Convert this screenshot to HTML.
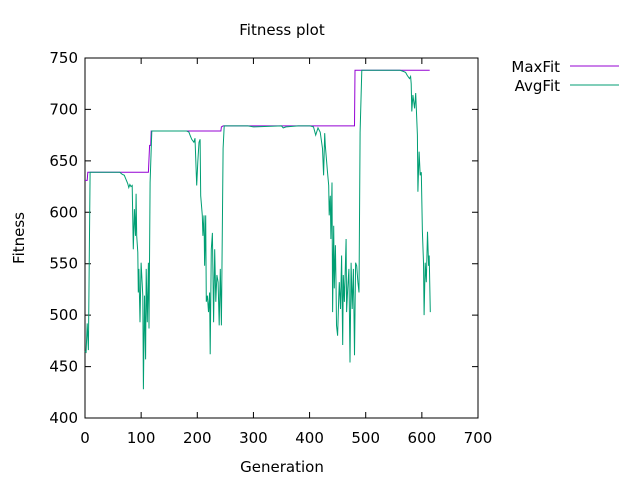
<!DOCTYPE html>
<html><head><meta charset="utf-8"><style>
body{margin:0;background:#fff}
svg text{font-family:"DejaVu Sans","Liberation Sans",sans-serif;font-size:15px;fill:#000}
</style></head><body>
<svg id="chart" width="640" height="480" viewBox="0 0 640 480" xmlns="http://www.w3.org/2000/svg">
<text x="282" y="35" text-anchor="middle">Fitness plot</text>
<text x="282" y="472" text-anchor="middle">Generation</text>
<text x="24" y="238" text-anchor="middle" transform="rotate(-90 24 238)">Fitness</text>
<g id="axes"></g>
<g id="series"></g>
<g>
<text x="560" y="72" text-anchor="end">MaxFit</text>
<line x1="570" y1="66" x2="619" y2="66" stroke="#9400d3" stroke-width="1"/>
<text x="560" y="91" text-anchor="end">AvgFit</text>
<line x1="570" y1="85" x2="619" y2="85" stroke="#009e73" stroke-width="1"/>
</g>
</svg>
<script>
const xTicks=[0,100,200,300,400,500,600,700];
const yTicks=[400,450,500,550,600,650,700,750];
const maxGen=[0,4,5,113,115,117,118,242,243,246,480,481,482,614];
const maxVal=[631,631,639,639,665,665,679,679,683,684,684,738,738,738];
const avgGen=[0,2,4,6,9,62,66,70,73,76,78,80,82,84,86,88,90,91,92,94,95,96,98,100,103,104,106,108,109,111,113,114,116,119,181,185,187,190,194,196,199,201,203,205,206,209,210,212,213,215,216,218,220,222,223,225,227,229,231,233,235,237,239,241,243,246,248,290,300,350,353,358,380,401,407,411,415,419,423,425,427,428,430,432,434,435,437,438,440,441,443,444,446,447,448,450,452,453,455,457,459,460,462,465,466,468,470,472,474,476,478,480,482,484,486,488,490,493,561,567,571,574,578,580,581,582,584,587,589,592,593,595,597,599,601,603,604,606,608,610,612,613,615];
const avgVal=[465,464,492,466,639,639,637,636,632,628,624,627,625,626,564,603,577,618,577,561,522,545,493,551,519,428,519,457,545,493,551,487,629,679,679,678,675,671,668,672,626,649,668,671,616,597,577,597,548,597,513,519,503,522,462,564,580,493,564,513,539,532,490,545,490,662,684,684,683,684,682,683,684,684,683,675,682,678,662,636,677,665,652,639,626,597,616,574,629,503,587,526,568,532,490,480,519,532,506,558,471,539,513,574,503,526,545,454,551,506,545,461,551,548,532,522,678,738,738,737,736,733,730,732,725,698,714,701,716,675,620,659,636,639,581,551,500,551,532,581,548,558,503];
const L=85,R=478,T=58,B=418;
const xs=g=>L+(g/700)*(R-L);
const ys=v=>B-((v-400)/350)*(B-T);
const NS="http://www.w3.org/2000/svg";
const axes=document.getElementById('axes');
const frame=document.createElementNS(NS,'rect');
frame.setAttribute('x',L);frame.setAttribute('y',T);frame.setAttribute('width',R-L);frame.setAttribute('height',B-T);
frame.setAttribute('fill','none');frame.setAttribute('stroke','#000');frame.setAttribute('stroke-width','1');


axes.appendChild(frame);
xTicks.forEach(t=>{
  const x=xs(t);
  const l=document.createElementNS(NS,'path');
  l.setAttribute('d',`M${x},${B}v-6M${x},${T}v6`);l.setAttribute('stroke','#000');
  
  
  axes.appendChild(l);
  const tx=document.createElementNS(NS,'text');
  tx.setAttribute('x',x);tx.setAttribute('y',B+25);tx.setAttribute('text-anchor','middle');tx.textContent=t;
  
  
  axes.appendChild(tx);
});
yTicks.forEach(t=>{
  const y=ys(t);
  const l=document.createElementNS(NS,'path');
  l.setAttribute('d',`M${L},${y}h6M${R},${y}h-6`);l.setAttribute('stroke','#000');
  
  
  axes.appendChild(l);
  const tx=document.createElementNS(NS,'text');
  tx.setAttribute('x',L-7);tx.setAttribute('y',y+5);tx.setAttribute('text-anchor','end');tx.textContent=t;
  
  
  axes.appendChild(tx);
});
const ser=document.getElementById('series');
function line(gs,vs,color,name){
  const p=document.createElementNS(NS,'polyline');
  p.setAttribute('points',gs.map((g,i)=>xs(g).toFixed(1)+','+ys(vs[i]).toFixed(1)).join(' '));
  p.setAttribute('fill','none');p.setAttribute('stroke',color);p.setAttribute('stroke-width','1');
  
  
  ser.appendChild(p);
}
line(maxGen,maxVal,'#9400d3','maxfit-line');
line(avgGen,avgVal,'#009e73','avgfit-line');
</script>
</body></html>
